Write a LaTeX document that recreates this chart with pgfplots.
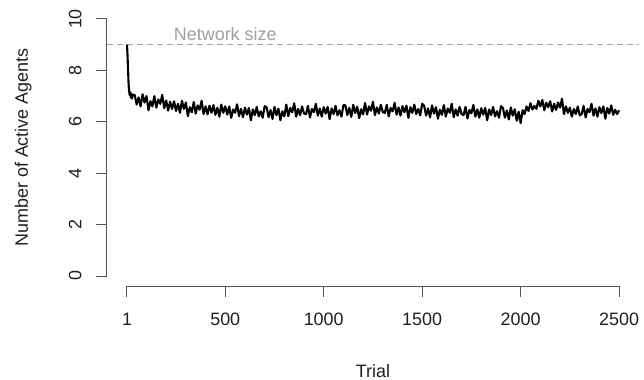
\documentclass[border=0pt]{standalone}
\usepackage{pgfplots}
\pgfplotsset{compat=1.18}
\usepackage{fontspec}
\setmainfont{Liberation Sans}
\definecolor{axgray}{HTML}{555555}
\definecolor{netgray}{HTML}{A0A0A0}
\begin{document}
\begin{tikzpicture}
\useasboundingbox (-127bp,-104bp) rectangle (517bp,276bp);
\begin{axis}[
  at={(0,0)}, anchor=south west,
  scale only axis, width=492.1bp, height=257bp,
  xmin=1, xmax=2500, ymin=0, ymax=10,
  axis x line*=bottom, axis y line*=left,
  axis x line shift=10.3bp, axis y line shift=20bp,
  axis line style={-, axgray, line width=1bp},
  clip=false,
  font=\fontsize{18}{21}\selectfont,
  /pgf/number format/assume math mode=true,
  xtick={1,500,1000,1500,2000,2500},
  xticklabels={1,500,1000,1500,2000,2500},
  ytick={0,2,4,6,8,10},
  yticklabels={0,2,4,6,8,10},
  tick align=outside,
  major tick length=11bp,
  tick style={axgray, line width=1bp},
  xticklabel style={anchor=north, yshift=-12bp, text=black!88},
  yticklabel style={xshift=-11bp, rotate=90, anchor=south, text=black!88},
  every axis x label/.style={at={(axis description cs:0.5,0)}, yshift=-101bp, anchor=base},
  every axis y label/.style={at={(axis description cs:0,0.5)}, xshift=-99bp, rotate=90, anchor=base},
  xlabel={Trial},
  ylabel={Number of Active Agents},
  label style={text=black!88},
]
\addplot[netgray, line width=1bp, dash pattern=on 6bp off 4bp, forget plot] coordinates {(-99,9) (2600,9)};
\node[text=netgray, anchor=base] at (axis cs:500,9) [yshift=4bp] {Network size};
\addplot[black, line width=2.1bp, line join=round, mark=none] coordinates {
(1,9.0) (2,8.85) (3,8.7) (4,8.5) (5,8.3) (6,8.1) (7,7.9) (8,7.7) (9,7.5) (10,7.35) (12,7.2) (14,7.05) (17,7.15) (20,6.95) (23,7.1) (26,6.9) (30,7.05)
(40,7.05) (50,6.67) (60,6.95) (70,6.6) (80,7.07) (90,6.75) (100,7.0)
(110,6.45) (120,6.8) (130,6.6) (140,7.0) (150,6.55) (160,6.87) (170,6.7) (180,7.05) (190,6.53) (200,6.83)
(210,6.44) (220,6.78) (230,6.5) (240,6.8) (250,6.42) (260,6.7) (270,6.35) (280,6.82) (290,6.5) (300,6.75)
(310,6.22) (320,6.57) (330,6.37) (340,6.77) (350,6.32) (360,6.64) (370,6.47) (380,6.82) (390,6.3) (400,6.6)
(410,6.29) (420,6.63) (430,6.35) (440,6.65) (450,6.27) (460,6.55) (470,6.2) (480,6.67) (490,6.35) (500,6.6)
(510,6.28) (520,6.6) (530,6.15) (540,6.48) (550,6.35) (560,6.68) (570,6.22) (580,6.5) (590,6.18) (600,6.55)
(610,6.28) (620,6.54) (630,6.06) (640,6.48) (650,6.26) (660,6.58) (670,6.21) (680,6.41) (690,6.16) (700,6.61)
(710,6.56) (720,6.18) (730,6.46) (740,6.11) (750,6.58) (760,6.26) (770,6.51) (780,6.06) (790,6.41) (800,6.21)
(810,6.67) (820,6.22) (830,6.54) (840,6.37) (850,6.72) (860,6.2) (870,6.5) (880,6.26) (890,6.6) (900,6.32)
(910,6.3) (920,6.62) (930,6.17) (940,6.5) (950,6.37) (960,6.7) (970,6.24) (980,6.52) (990,6.2) (1000,6.57)
(1010,6.32) (1020,6.58) (1030,6.1) (1040,6.52) (1050,6.3) (1060,6.62) (1070,6.25) (1080,6.45) (1090,6.2) (1100,6.65)
(1110,6.64) (1120,6.26) (1130,6.54) (1140,6.19) (1150,6.66) (1160,6.34) (1170,6.59) (1180,6.14) (1190,6.49) (1200,6.29)
(1210,6.73) (1220,6.28) (1230,6.6) (1240,6.43) (1250,6.78) (1260,6.26) (1270,6.56) (1280,6.32) (1290,6.66) (1300,6.38)
(1310,6.34) (1320,6.66) (1330,6.21) (1340,6.54) (1350,6.41) (1360,6.74) (1370,6.28) (1380,6.56) (1390,6.24) (1400,6.61)
(1410,6.37) (1420,6.63) (1430,6.15) (1440,6.57) (1450,6.35) (1460,6.67) (1470,6.3) (1480,6.5) (1490,6.25) (1500,6.7)
(1510,6.62) (1520,6.24) (1530,6.52) (1540,6.17) (1550,6.64) (1560,6.32) (1570,6.57) (1580,6.12) (1590,6.47) (1600,6.27)
(1610,6.65) (1620,6.2) (1630,6.52) (1640,6.35) (1650,6.7) (1660,6.18) (1670,6.48) (1680,6.24) (1690,6.58) (1700,6.3)
(1710,6.26) (1720,6.58) (1730,6.13) (1740,6.46) (1750,6.33) (1760,6.66) (1770,6.2) (1780,6.48) (1790,6.16) (1800,6.53)
(1810,6.28) (1820,6.54) (1830,6.06) (1840,6.48) (1850,6.26) (1860,6.58) (1870,6.21) (1880,6.41) (1890,6.16) (1900,6.61)
(1910,6.54) (1920,6.16) (1930,6.44) (1940,6.09) (1950,6.56) (1960,6.24) (1970,6.49) (1980,6.04) (1990,6.39) (2000,5.95)
(2010,6.45) (2020,6.3) (2030,6.6) (2040,6.42) (2050,6.72) (2060,6.48) (2070,6.62) (2080,6.5) (2090,6.82) (2100,6.6)
(2110,6.85) (2120,6.45) (2130,6.74) (2140,6.57) (2150,6.8) (2160,6.4) (2170,6.7) (2180,6.46) (2190,6.75) (2200,6.55)
(2210,6.9) (2220,6.3) (2230,6.6) (2240,6.35) (2250,6.55) (2260,6.2) (2270,6.5) (2280,6.3) (2290,6.6) (2300,6.25)
(2310,6.3) (2320,6.62) (2330,6.17) (2340,6.5) (2350,6.37) (2360,6.7) (2370,6.24) (2380,6.52) (2390,6.2) (2400,6.57)
(2410,6.34) (2420,6.6) (2430,6.12) (2440,6.54) (2450,6.32) (2460,6.64) (2470,6.27) (2480,6.47) (2490,6.3) (2500,6.45)
};
\end{axis}
\end{tikzpicture}
\end{document}
